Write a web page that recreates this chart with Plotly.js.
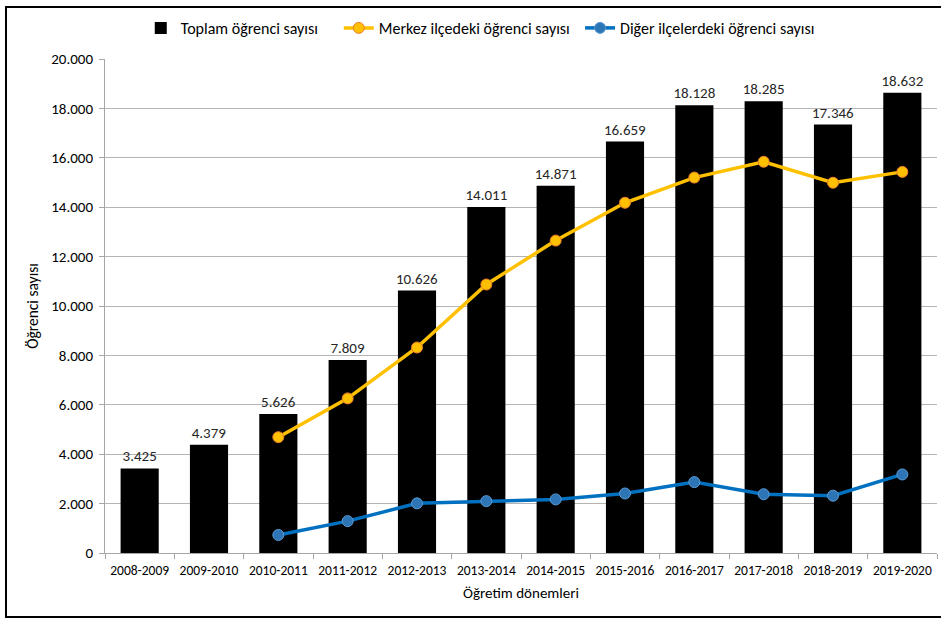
<!DOCTYPE html>
<html>
<head>
<meta charset="utf-8">
<script src="https://cdn.plot.ly/plotly-3.0.1.min.js"></script>
<style>
  html, body { margin: 0; padding: 0; background: #fff; overflow: hidden; }
  #frame { position: absolute; left: 5px; top: 6px; width: 940px; height: 608px; border: 2px solid #000; }
  #chart { width: 934px; height: 608px; }
</style>
</head>
<body>
<div id="frame"><div id="chart"></div></div>
<script>
const categories = ["2008-2009","2009-2010","2010-2011","2011-2012","2012-2013","2013-2014","2014-2015","2015-2016","2016-2017","2017-2018","2018-2019","2019-2020"];
const toplam = [3425, 4379, 5626, 7809, 10626, 14011, 14871, 16659, 18128, 18285, 17346, 18632];
const merkez = [null, null, 4690, 6260, 8320, 10870, 12650, 14180, 15200, 15840, 14990, 15430];
const diger  = [null, null, 730, 1290, 2010, 2100, 2170, 2410, 2870, 2380, 2320, 3180];

const FONT = "Carlito, 'Liberation Sans Narrow', 'Liberation Sans', sans-serif";

const traces = [
  {
    type: "bar", name: "Toplam öğrenci sayısı", x: categories, y: toplam,
    marker: { color: "#000000" }, legend: "legend",
    texttemplate: "%{y:,d}", textposition: "outside", cliponaxis: false,
    constraintext: "none",
    textfont: { family: FONT, size: 15, color: "#262626" }
  },
  {
    type: "scatter", mode: "lines+markers", name: "Merkez ilçedeki öğrenci sayısı",
    x: categories, y: merkez, legend: "legend2",
    line: { color: "#FFC000", width: 3.5 },
    marker: { color: "#FFC000", size: 11, line: { color: "#ED7D31", width: 1 } }
  },
  {
    type: "scatter", mode: "lines+markers", name: "Diğer ilçelerdeki öğrenci sayısı",
    x: categories, y: diger, legend: "legend3",
    line: { color: "#0070C0", width: 3.5 },
    marker: { color: "#2E75B6", size: 11, line: { color: "#5B9BD5", width: 1 } }
  }
];

const legendBase = {
  orientation: "h", yanchor: "top", y: 1.095, xanchor: "left",
  font: { family: FONT, size: 16, color: "#000" },
  bgcolor: "rgba(0,0,0,0)", borderwidth: 0
};

const layout = {
  width: 934, height: 608,
  margin: { l: 98, r: 4, t: 50, b: 63 },
  separators: ",.",
  paper_bgcolor: "#ffffff", plot_bgcolor: "#ffffff",
  font: { family: FONT, size: 13, color: "#000" },
  bargap: 0.45,
  showlegend: true,
  legend: Object.assign({}, legendBase, { x: 0.043 }),
  legend2: Object.assign({}, legendBase, { x: 0.281 }),
  legend3: Object.assign({}, legendBase, { x: 0.571 }),
  xaxis: {
    type: "category", automargin: false, range: [-0.5, 11.5], tickangle: 0,
    tickson: "boundaries", ticks: "outside", ticklen: 5, tickcolor: "#a6a6a6", ticklabelstandoff: 5,
    showline: true, linecolor: "#a6a6a6", linewidth: 1,
    showgrid: false,
    tickfont: { family: FONT, size: 13.5, color: "#000" },
    title: { text: "Öğretim dönemleri", font: { family: FONT, size: 15, color: "#000" }, standoff: 9 }
  },
  yaxis: {
    automargin: false,
    range: [0, 20000], dtick: 2000, tickformat: ",d",
    ticks: "outside", ticklen: 5, tickcolor: "#a6a6a6", ticklabelstandoff: 3,
    showline: true, linecolor: "#a6a6a6", linewidth: 1,
    showgrid: true, gridcolor: "#b4b4b4", gridwidth: 1,
    zeroline: false,
    tickfont: { family: FONT, size: 15, color: "#000" },
    title: { text: "Öğrenci sayısı", font: { family: FONT, size: 15.5, color: "#000" }, standoff: 8 }
  }
};

Plotly.newPlot("chart", traces, layout, { displayModeBar: false, staticPlot: true });
</script>
</body>
</html>
